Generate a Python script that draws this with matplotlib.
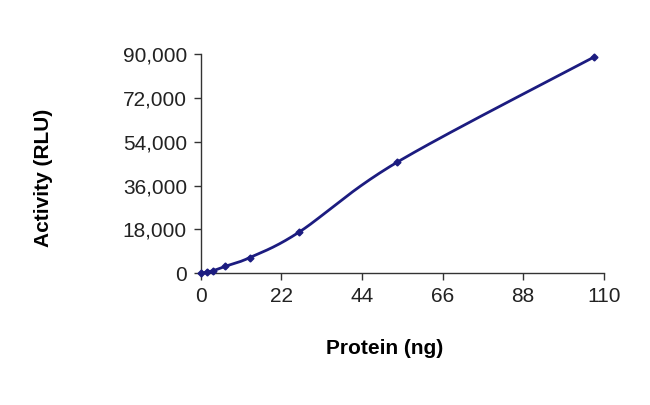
import matplotlib.pyplot as plt
from matplotlib.ticker import FuncFormatter
import numpy as np

plt.rc('font', family=['Liberation Sans', 'DejaVu Sans'])

protein = [0, 1.675, 3.35, 6.7, 13.4, 26.8, 53.6, 107.2]
activity = [0, 600, 1100, 2900, 6500, 16900, 45600, 88600]
xticks = [0, 22, 44, 66, 88, 110]
yticks = [0, 18000, 36000, 54000, 72000, 90000]


def smooth(x, y, n=40):
    # Excel-like Catmull-Rom smoothing through the points
    x = np.asarray(x, float)
    y = np.asarray(y, float)
    px = np.concatenate([[x[0]], x, [x[-1]]])
    py = np.concatenate([[y[0]], y, [y[-1]]])
    xs, ys = [], []
    for i in range(1, len(px) - 2):
        t = np.linspace(0, 1, n)
        for p, out in ((px, xs), (py, ys)):
            p0, p1, p2, p3 = p[i - 1], p[i], p[i + 1], p[i + 2]
            out.extend(0.5 * ((2 * p1) + (-p0 + p2) * t
                              + (2 * p0 - 5 * p1 + 4 * p2 - p3) * t ** 2
                              + (-p0 + 3 * p1 - 3 * p2 + p3) * t ** 3))
    return np.array(xs), np.array(ys)


fig = plt.figure(figsize=(6.5, 4.05), dpi=100)
ax = fig.add_axes([0.309, 0.325, 0.620, 0.542])

sx, sy = smooth(protein, activity)
ax.plot(sx, sy, color='#1c1c80', lw=2.0, zorder=3)
ax.plot(protein, activity, 'D', color='#1c1c80', ms=3.5, zorder=4,
        clip_on=False)

ax.set_xlim(0, 110)
ax.set_ylim(0, 90000)
ax.set_xticks(xticks)
ax.set_yticks(yticks)
ax.yaxis.set_major_formatter(FuncFormatter(lambda v, p: f'{int(v):,}'))

for s in ['top', 'right']:
    ax.spines[s].set_visible(False)
for s in ['left', 'bottom']:
    ax.spines[s].set_color('#333333')
    ax.spines[s].set_linewidth(1.0)
ax.tick_params(direction='out', length=5, width=1, color='#333333',
               labelsize=15, labelcolor='#222222', pad=5)

ax.set_xlabel('Protein (ng)', fontsize=15, fontweight='bold')
ax.xaxis.set_label_coords(0.457, -0.30)
ax.set_ylabel('Activity (RLU)', fontsize=15, fontweight='bold')
ax.yaxis.set_label_coords(-0.367, 0.437)

fig.savefig('out.png', dpi=100)
